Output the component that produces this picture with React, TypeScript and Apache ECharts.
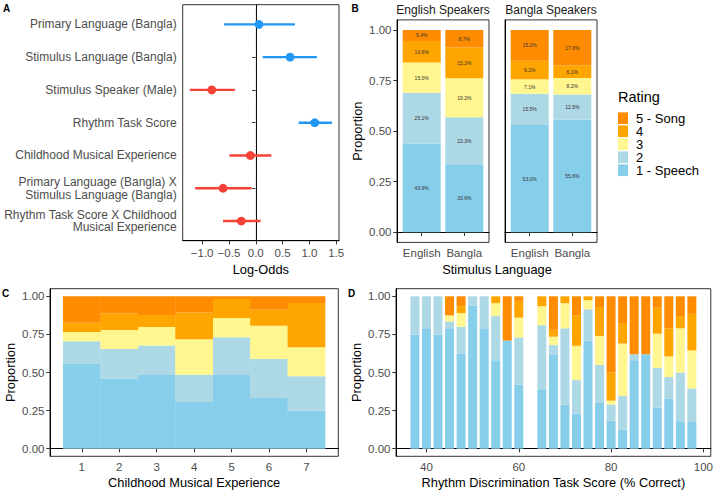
import React, { useEffect, useRef } from 'react';
import * as echarts from 'echarts';

const FONT = '"Liberation Sans", Arial, Helvetica, sans-serif';

// ---------- Panel A: log-odds estimates ----------
const aTerms = [
  'Primary Language (Bangla)',
  'Stimulus Language (Bangla)',
  'Stimulus Speaker (Male)',
  'Rhythm Task Score',
  'Childhood Musical Experience',
  'Primary Language (Bangla) X\nStimulus Language (Bangla)',
  'Rhythm Task Score X Childhood\nMusical Experience',
];
const aEstimate = [0.06, 0.64, -0.82, 1.1, -0.1, -0.61, -0.27];
const aLower = [-0.59, 0.13, -1.23, 0.8, -0.49, -1.13, -0.61];
const aUpper = [0.73, 1.14, -0.39, 1.42, 0.29, -0.08, 0.09];
const aTicks = [-1.0, -0.5, 0, 0.5, 1.0, 1.5];
const aRows = [1, 2, 3, 4, 5, 6, 7];

// ---------- Ratings ----------
const ratingNames = ['1 - Speech', '2', '3', '4', '5 - Song'];
const ratingColors = ['#87CEEB', '#ADD8E6', '#FFF68F', '#FFA500', '#FF8C00'];

// ---------- Panel B: percentages by rating (1..5) ----------
const stimLanguages = ['English', 'Bangla'];
const speakerGroups = ['English Speakers', 'Bangla Speakers'];
const bEngSpkEngStim = [43.9, 25.1, 15.0, 10.6, 5.4];
const bEngSpkBanStim = [33.6, 23.3, 19.2, 15.2, 8.7];
const bBanSpkEngStim = [53.0, 15.5, 7.1, 9.2, 15.2];
const bBanSpkBanStim = [55.6, 12.5, 8.2, 6.1, 17.6];
const propTicks = [0, 0.25, 0.5, 0.75, 1];

// ---------- Panel C: proportions by childhood musical experience ----------
const cExperience = [1, 2, 3, 4, 5, 6, 7];
const cSpeech = [0.556, 0.46, 0.484, 0.306, 0.484, 0.333, 0.249];
const cRating2 = [0.149, 0.194, 0.194, 0.18, 0.247, 0.256, 0.226];
const cRating3 = [0.061, 0.125, 0.121, 0.232, 0.127, 0.218, 0.19];
const cRating4 = [0.061, 0.109, 0.078, 0.175, 0.124, 0.105, 0.291];
const cSong = [0.173, 0.112, 0.123, 0.107, 0.018, 0.088, 0.044];

// ---------- Panel D: proportions by rhythm task score ----------
const dScores = [37.5, 40, 42.5, 45, 47.5, 50, 52.5, 55, 57.5, 60, 65, 67.5, 70, 72.5, 75, 77.5, 80, 82.5, 85, 87.5, 90, 92.5, 95, 97.5];
const dSpeech = [0.75, 0.79, 0.75, 0.79, 0.625, 0.94, 0.79, 0.58, 0.71, 0.42, 0.39, 0.62, 0.29, 0.23, 0.71, 0.3, 0.185, 0.125, 0.58, 0.62, 0.27, 0.33, 0.18, 0.18];
const dRating2 = [0.25, 0.21, 0.25, 0.045, 0.175, 0.06, 0.21, 0.29, 0, 0.31, 0.42, 0.06, 0.5, 0.22, 0.205, 0.25, 0.105, 0.22, 0.04, 0, 0.26, 0.14, 0.32, 0.215];
const dRating3 = [0, 0, 0, 0.04, 0.09, 0, 0, 0.085, 0, 0.13, 0.125, 0.055, 0.165, 0.225, 0.06, 0.19, 0.025, 0.345, 0, 0, 0.225, 0.135, 0.29, 0.25];
const dRating4 = [0, 0, 0, 0, 0.045, 0, 0, 0.045, 0, 0.11, 0.065, 0.045, 0.045, 0.2, 0.025, 0.19, 0.185, 0.135, 0, 0, 0.17, 0.185, 0.08, 0.24];
const dSong = [0, 0, 0, 0.125, 0.065, 0, 0, 0, 0.29, 0.03, 0, 0.22, 0, 0.125, 0, 0.07, 0.5, 0.175, 0.38, 0.38, 0.075, 0.21, 0.13, 0.115];
const dTicks = [40, 60, 80, 100];

const BLUE = '#2196F3';
const RED = '#F44336';
const TICK_COLOR = '#4D4D4D';

const labelStyle = { color: TICK_COLOR, fontSize: 11.5, fontFamily: FONT };
const nameStyle = { color: '#000', fontSize: 12.8, fontFamily: FONT };

function propYAxis(gridIndex: number, showLabels: boolean, name?: string) {
  return {
    type: 'value',
    gridIndex,
    min: -0.05,
    max: 1.05,
    name: name || '',
    nameLocation: 'middle',
    nameGap: 33,
    nameTextStyle: nameStyle,
    axisLine: { show: true, lineStyle: { color: '#000', width: 1 } },
    axisTick: { show: showLabels, length: 3.7, customValues: propTicks, lineStyle: { color: '#333' } },
    axisLabel: {
      show: showLabels,
      customValues: propTicks,
      formatter: (v: number) => v.toFixed(2),
      margin: 5.5,
      ...labelStyle,
    },
    splitLine: { show: false },
  };
}

function stimXAxis(gridIndex: number) {
  return {
    type: 'value',
    gridIndex,
    min: 0.42,
    max: 2.58,
    axisLine: { show: true, lineStyle: { color: '#000' } },
    axisTick: { show: true, length: 3.7, customValues: [1, 2], lineStyle: { color: '#333' } },
    axisLabel: {
      customValues: [1, 2],
      formatter: (v: number) => stimLanguages[Math.round(v) - 1] || '',
      margin: 5,
      ...labelStyle,
    },
    splitLine: { show: false },
  };
}

export default function App() {
  const ref = useRef<HTMLDivElement>(null);

  useEffect(() => {
    if (!ref.current) return;
    const chart = echarts.init(ref.current, undefined, { renderer: 'svg' });

    const gridBase = { show: true, borderColor: '#333', borderWidth: 1, backgroundColor: 'transparent' };

    const bSets = [
      [bEngSpkEngStim, bEngSpkBanStim],
      [bBanSpkEngStim, bBanSpkBanStim],
    ];
    const cSets = [cSpeech, cRating2, cRating3, cRating4, cSong];
    const dSets = [dSpeech, dRating2, dRating3, dRating4, dSong];

    const series: any[] = [];

    // Panel A zero line
    series.push({
      type: 'line',
      xAxisIndex: 0,
      yAxisIndex: 0,
      data: [[0, 0.4], [0, 7.6]],
      symbol: 'none',
      silent: true,
      lineStyle: { type: [1.5, 1.5], color: '#b3b3b3', width: 0.7 },
      z: 1,
    });
    // Panel A estimates with intervals
    series.push({
      type: 'custom',
      xAxisIndex: 0,
      yAxisIndex: 0,
      z: 3,
      encode: { x: [0, 1, 2], y: 3 },
      data: aEstimate.map((e, i) => [e, aLower[i], aUpper[i], aRows[i]]),
      renderItem: (_p: any, api: any) => {
        const row = api.value(3);
        const est = api.value(0);
        const lo = api.coord([api.value(1), row]);
        const hi = api.coord([api.value(2), row]);
        const pt = api.coord([est, row]);
        const color = est > 0 ? BLUE : RED;
        return {
          type: 'group',
          children: [
            { type: 'line', shape: { x1: lo[0], y1: lo[1], x2: hi[0], y2: hi[1] }, style: { stroke: color, lineWidth: 2.4 } },
            { type: 'circle', shape: { cx: pt[0], cy: pt[1], r: 4.4 }, style: { fill: color } },
          ],
        };
      },
    });

    // value first, position second, so that the stack is computed on y
    const stackEncode = { x: 1, y: 0 };

    // Panel B
    bSets.forEach((facet, f) => {
      ratingNames.forEach((name, r) => {
        series.push({
          type: 'bar',
          name,
          xAxisIndex: 1 + f,
          yAxisIndex: 1 + f,
          stack: 'B' + f,
          barWidth: 38,
          encode: stackEncode,
          itemStyle: { color: ratingColors[r] },
          data: facet.map((vals, s) => [vals[r] / 100, s + 1]),
          label: {
            show: true,
            position: 'inside',
            fontSize: 5,
            color: '#333',
            fontFamily: FONT,
            formatter: (p: any) => (p.value[0] * 100).toFixed(1) + '%',
          },
        });
      });
    });

    // Panel C
    ratingNames.forEach((name, r) => {
      series.push({
        type: 'bar',
        name,
        xAxisIndex: 3,
        yAxisIndex: 3,
        stack: 'C',
        barWidth: 37.8,
        encode: stackEncode,
        itemStyle: { color: ratingColors[r] },
        data: cExperience.map((x, i) => [cSets[r][i], x]),
      });
    });

    // Panel D
    ratingNames.forEach((name, r) => {
      series.push({
        type: 'bar',
        name,
        xAxisIndex: 4,
        yAxisIndex: 4,
        stack: 'D',
        barWidth: 9,
        encode: stackEncode,
        itemStyle: { color: ratingColors[r] },
        data: dScores.map((x, i) => [dSets[r][i], x]),
      });
    });

    const panelLetter = (text: string, x: number, y: number) => ({
      type: 'text',
      x,
      y,
      style: { text, fontSize: 10, fontWeight: 'bold', fontFamily: FONT, fill: '#000', textVerticalAlign: 'top' },
    });

    const option: any = {
      animation: false,
      backgroundColor: '#fff',
      textStyle: { fontFamily: FONT },
      grid: [
        { ...gridBase, left: 182.7, top: 4.7, width: 156.3, height: 236 },
        { ...gridBase, left: 397, top: 19.9, width: 92, height: 222.5 },
        { ...gridBase, left: 505, top: 19.9, width: 92, height: 222.5 },
        { ...gridBase, left: 50, top: 288.7, width: 288.3, height: 167.6 },
        { ...gridBase, left: 396, top: 288.7, width: 315.7, height: 167.6 },
      ],
      xAxis: [
        {
          type: 'value',
          gridIndex: 0,
          min: -1.3625,
          max: 1.5525,
          name: 'Log-Odds',
          nameLocation: 'middle',
          nameGap: 22,
          nameTextStyle: nameStyle,
          axisLine: { show: true, lineStyle: { color: '#000' } },
          axisTick: { show: true, length: 3.7, customValues: aTicks, lineStyle: { color: '#333' } },
          axisLabel: {
            customValues: aTicks,
            formatter: (v: number) => v.toFixed(1).replace('-', '\u2212'),
            margin: 6,
            ...labelStyle,
          },
          splitLine: { show: false },
        },
        stimXAxis(1),
        stimXAxis(2),
        {
          type: 'value',
          gridIndex: 3,
          min: 0.15,
          max: 7.85,
          name: 'Childhood Musical Experience',
          nameLocation: 'middle',
          nameGap: 20,
          nameTextStyle: nameStyle,
          axisLine: { show: true, lineStyle: { color: '#000' } },
          axisTick: { show: true, length: 3.7, customValues: cExperience, lineStyle: { color: '#333' } },
          axisLabel: { customValues: cExperience, formatter: (v: number) => String(v), margin: 4.5, ...labelStyle },
          splitLine: { show: false },
        },
        {
          type: 'value',
          gridIndex: 4,
          min: 33.4,
          max: 101.6,
          name: 'Rhythm Discrimination Task Score (% Correct)',
          nameLocation: 'middle',
          nameGap: 20,
          nameTextStyle: nameStyle,
          axisLine: { show: true, lineStyle: { color: '#000' } },
          axisTick: { show: true, length: 3.7, customValues: dTicks, lineStyle: { color: '#333' } },
          axisLabel: { customValues: dTicks, formatter: (v: number) => String(v), margin: 4.5, ...labelStyle },
          splitLine: { show: false },
        },
      ],
      yAxis: [
        {
          type: 'value',
          gridIndex: 0,
          min: 0.4,
          max: 7.6,
          inverse: true,
          axisLine: { show: true, lineStyle: { color: '#000' } },
          axisTick: { show: true, length: 3.7, customValues: aRows, lineStyle: { color: '#333' } },
          axisLabel: {
            customValues: aRows,
            formatter: (v: number) => aTerms[Math.round(v) - 1] || '',
            margin: 6,
            color: TICK_COLOR,
            fontSize: 12,
            lineHeight: 12.5,
            fontFamily: FONT,
            align: 'right',
          },
          splitLine: { show: false },
        },
        propYAxis(1, true, 'Proportion'),
        propYAxis(2, false),
        propYAxis(3, true, 'Proportion'),
        propYAxis(4, true, 'Proportion'),
      ],
      legend: {
        left: 618,
        top: 111.7,
        orient: 'vertical',
        itemWidth: 10,
        itemHeight: 11.7,
        itemGap: 0,
        padding: 0,
        icon: 'rect',
        selectedMode: false,
        data: [...ratingNames].reverse(),
        textStyle: { fontSize: 13, lineHeight: 11.7, color: '#000', fontFamily: FONT, padding: [0, 0, 0, 3] },
      },
      graphic: [
        panelLetter('A', 3, 3),
        panelLetter('B', 351.5, 3),
        panelLetter('C', 2, 288.5),
        panelLetter('D', 348, 288.5),
        {
          type: 'text',
          x: 443,
          y: 10,
          style: { text: speakerGroups[0], fontSize: 12, fontFamily: FONT, fill: '#1a1a1a', textAlign: 'center', textVerticalAlign: 'middle' },
        },
        {
          type: 'text',
          x: 551,
          y: 10,
          style: { text: speakerGroups[1], fontSize: 12, fontFamily: FONT, fill: '#1a1a1a', textAlign: 'center', textVerticalAlign: 'middle' },
        },
        {
          type: 'text',
          x: 497,
          y: 263,
          style: { text: 'Stimulus Language', fontSize: 12.8, fontFamily: FONT, fill: '#000', textAlign: 'center', textVerticalAlign: 'top' },
        },
        {
          type: 'text',
          x: 618,
          y: 97,
          style: { text: 'Rating', fontSize: 14.5, fontFamily: FONT, fill: '#000', textAlign: 'left', textVerticalAlign: 'middle' },
        },
      ],
      series,
    };

    chart.setOption(option);
    return () => chart.dispose();
  }, []);

  return (
    <div
      ref={ref}
      style={{ position: 'fixed', left: 0, top: 0, width: 716, height: 493, background: '#fff' }}
    />
  );
}
